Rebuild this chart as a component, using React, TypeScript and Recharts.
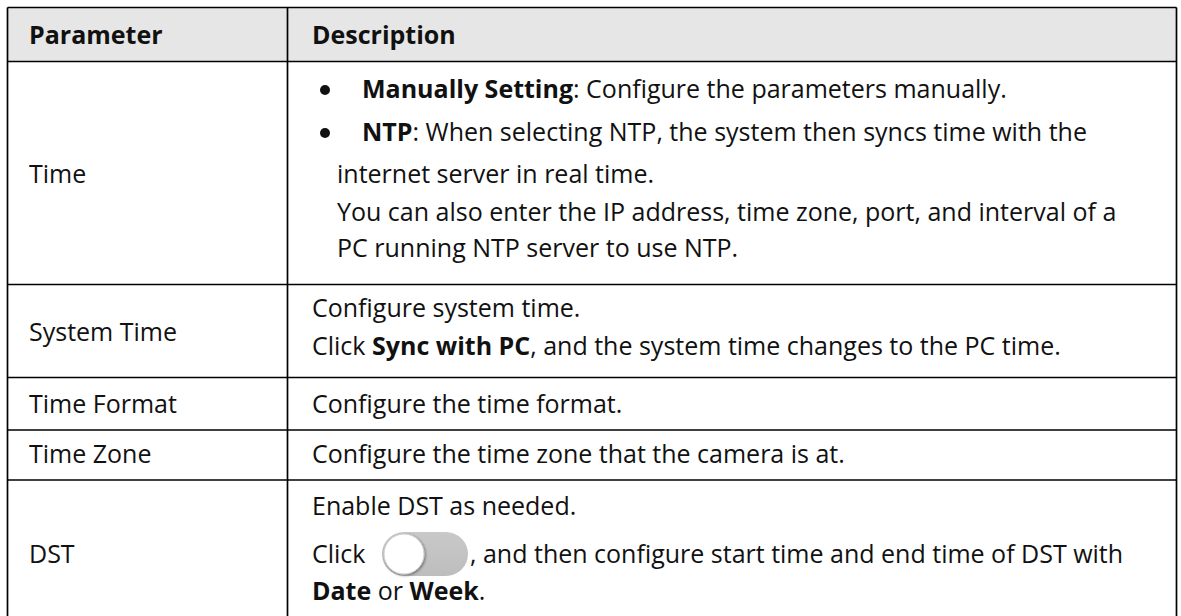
import React from 'react';
import { Surface, Layer, Rectangle, Dot, Text } from 'recharts';

type Seg = { t: string; b?: boolean };
type Line = { segs: Seg[]; bullet?: boolean; toggle?: Seg[] };

// ---- content ----
const headers = ['Parameter', 'Description'];
const parameters = ['Time', 'System Time', 'Time Format', 'Time Zone', 'DST'];

const timeLines: Line[] = [
  { bullet: true, segs: [{ t: 'Manually Setting', b: true }, { t: ': Configure the parameters manually.' }] },
  { bullet: true, segs: [{ t: 'NTP', b: true }, { t: ': When selecting NTP, the system then syncs time with the' }] },
  { segs: [{ t: 'internet server in real time.' }] },
  { segs: [{ t: 'You can also enter the IP address, time zone, port, and interval of a' }] },
  { segs: [{ t: 'PC running NTP server to use NTP.' }] },
];
const systemTimeLines: Line[] = [
  { segs: [{ t: 'Configure system time.' }] },
  { segs: [{ t: 'Click ' }, { t: 'Sync with PC', b: true }, { t: ', and the system time changes to the PC time.' }] },
];
const timeFormatLines: Line[] = [{ segs: [{ t: 'Configure the time format.' }] }];
const timeZoneLines: Line[] = [{ segs: [{ t: 'Configure the time zone that the camera is at.' }] }];
const dstLines: Line[] = [
  { segs: [{ t: 'Enable DST as needed.' }] },
  { segs: [{ t: 'Click' }], toggle: [{ t: ', and then configure start time and end time of DST with' }] },
  { segs: [{ t: 'Date', b: true }, { t: ' or ' }, { t: 'Week', b: true }, { t: '.' }] },
];
const descriptions: Line[][] = [timeLines, systemTimeLines, timeFormatLines, timeZoneLines, dstLines];

// ---- layout ----
const W = 1181;
const H = 616;
const LEFT = 7.5;
const RIGHT = 1176.5;
const DIV = 287.5;
const rowEdges = [7.5, 61.5, 284.5, 377.5, 430, 480, 628];
const headerBaseline = 44;
const labelBaselines = [183, 341, 413, 463, 563];
const lineBaselines = [
  [98, 141, 183, 221, 257],
  [317, 355],
  [413],
  [463],
  [515, 563, 600],
];
const LABEL_X = 29;
const DESC_X = 312;
const LIST_X = 337;
const BULLET_X = 325;
const BULLET_TEXT_X = 362;
const TOGGLE_X = 382;
const TOGGLE_W = 86;
const TOGGLE_H = 44;
const AFTER_TOGGLE_X = 470;

const FONT = "'Open Sans', 'Noto Sans', sans-serif";
const FS = 25;
const INK = '#111111';
const STROKE = 1.7;

function Segs({ segs, x, y }: { segs: Seg[]; x: number; y: number }) {
  return (
    <text x={x} y={y} fontFamily={FONT} fontSize={FS} fill={INK}>
      {segs.map((s, i) => (
        <tspan key={i} fontWeight={s.b ? 700 : 400} style={{ whiteSpace: 'pre' }}>
          {s.t}
        </tspan>
      ))}
    </text>
  );
}

export default function App() {
  const descX = (rowIdx: number, line: Line) =>
    line.bullet ? BULLET_TEXT_X : rowIdx === 0 ? LIST_X : DESC_X;

  return (
    <div style={{ position: 'absolute', left: 0, top: 0, width: W, height: H, background: '#fff' }}>
      <Surface width={W} height={H} viewBox={{ x: 0, y: 0, width: W, height: H }}>
        <defs>
          <filter id="knobShadow" x="-30%" y="-30%" width="160%" height="160%">
            <feGaussianBlur in="SourceAlpha" stdDeviation="1.5" />
            <feOffset dx="0.5" dy="1" result="b" />
            <feComponentTransfer>
              <feFuncA type="linear" slope="0.45" />
            </feComponentTransfer>
            <feMerge>
              <feMergeNode />
              <feMergeNode in="SourceGraphic" />
            </feMerge>
          </filter>
          <linearGradient id="pill" x1="0" y1="0" x2="0" y2="1">
            <stop offset="0" stopColor="#c9c9c9" />
            <stop offset="1" stopColor="#bdbdbd" />
          </linearGradient>
        </defs>
        {/* header background */}
        <Layer>
          <Rectangle x={LEFT} y={rowEdges[0]} width={RIGHT - LEFT} height={rowEdges[1] - rowEdges[0]} fill="#e6e6e6" />
        </Layer>

        {/* header text */}
        <Layer>
          <Text x={LABEL_X} y={headerBaseline} fontFamily={FONT} fontSize={FS} fontWeight={700} fill={INK}>
            {headers[0]}
          </Text>
          <Text x={DESC_X} y={headerBaseline} fontFamily={FONT} fontSize={FS} fontWeight={700} fill={INK}>
            {headers[1]}
          </Text>
        </Layer>

        {/* parameter labels */}
        <Layer>
          {parameters.map((p, i) => (
            <Text key={p} x={LABEL_X} y={labelBaselines[i]} fontFamily={FONT} fontSize={FS} fill={INK}>
              {p}
            </Text>
          ))}
        </Layer>

        {/* descriptions */}
        <Layer>
          {descriptions.map((lines, r) =>
            lines.map((line, j) => {
              const y = lineBaselines[r][j];
              return (
                <g key={`${r}-${j}`}>
                  {line.bullet && <Dot cx={BULLET_X} cy={y - 8} r={5} fill={INK} />}
                  <Segs segs={line.segs} x={descX(r, line)} y={y} />
                  {line.toggle && (
                    <g>
                      <Rectangle
                        x={TOGGLE_X}
                        y={y - 31}
                        width={TOGGLE_W}
                        height={TOGGLE_H}
                        radius={TOGGLE_H / 2}
                        fill="url(#pill)"
                      />
                      <circle
                        cx={TOGGLE_X + TOGGLE_H / 2}
                        cy={y - 31 + TOGGLE_H / 2}
                        r={TOGGLE_H / 2 - 2}
                        fill="#ffffff"
                        stroke="#d0d0d0"
                        strokeWidth={1}
                        filter="url(#knobShadow)"
                      />
                      <Segs segs={line.toggle} x={AFTER_TOGGLE_X} y={y} />
                    </g>
                  )}
                </g>
              );
            })
          )}
        </Layer>

        {/* grid lines */}
        <Layer>
          {rowEdges.map((yy, i) => (
            <line key={`h${i}`} x1={LEFT} x2={RIGHT} y1={yy} y2={yy} stroke="#000" strokeWidth={STROKE} />
          ))}
          <line x1={LEFT} x2={LEFT} y1={rowEdges[0]} y2={rowEdges[rowEdges.length - 1]} stroke="#000" strokeWidth={STROKE} />
          <line x1={RIGHT} x2={RIGHT} y1={rowEdges[0]} y2={rowEdges[rowEdges.length - 1]} stroke="#000" strokeWidth={STROKE} />
          <line x1={DIV} x2={DIV} y1={rowEdges[0]} y2={rowEdges[rowEdges.length - 1]} stroke="#000" strokeWidth={STROKE} />
        </Layer>
      </Surface>
    </div>
  );
}
